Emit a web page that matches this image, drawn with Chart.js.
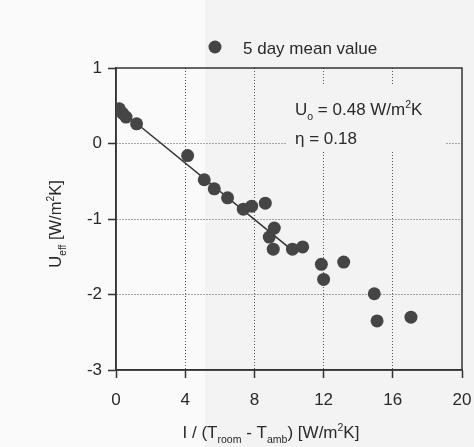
<!DOCTYPE html>
<html lang="en">
<head>
    <meta charset="UTF-8">
    <title>U_eff vs I/(T_room - T_amb)</title>
    <script src="https://cdn.jsdelivr.net/npm/chart.js"></script>
    <style>
        html, body { margin: 0; padding: 0; background: #fafafa; }
        #wrap { width: 474px; height: 447px; }
    </style>
</head>
<body>

<div id="wrap">
    <canvas id="myChart" width="474" height="447"></canvas>
</div>

<script>
    // 5 day mean values
    const xVals = [0.19, 0.38, 0.58, 1.19, 4.14, 5.10, 5.68, 6.45, 7.36, 7.84, 8.63,
                   9.15, 8.86, 9.09, 10.2, 10.79, 11.87, 12.0, 13.16, 14.93, 15.09, 17.05];
    const yVals = [0.46, 0.40, 0.35, 0.26, -0.16, -0.48, -0.60, -0.72, -0.87, -0.83, -0.79,
                   -1.12, -1.24, -1.40, -1.40, -1.37, -1.60, -1.80, -1.57, -1.99, -2.35, -2.30];

    // fitted line, ends
    const fitX = [0.1, 10.0];
    const fitY = [0.47, -1.38];

    const xTicks = [0, 4, 8, 12, 16, 20];
    const yTicks = [1, 0, -1, -2, -3];

    const FONT = '"Liberation Sans", Arial, sans-serif';
    const INK = '#2a2a2a';
    const PAPER_R = '#f3f3f3';

    // draws text made of parts, some of them sub- or superscript
    function drawParts(ctx, parts, x, y, size, align) {
        const sizeOf = p => p.sub || p.sup ? size * 0.62 : size;
        let total = 0;
        parts.forEach(p => {
            ctx.font = sizeOf(p) + 'px ' + FONT;
            total += ctx.measureText(p.t).width;
        });
        let cx = align === 'center' ? x - total / 2 : x;
        ctx.textAlign = 'left';
        ctx.textBaseline = 'alphabetic';
        parts.forEach(p => {
            ctx.font = sizeOf(p) + 'px ' + FONT;
            let dy = 0;
            if (p.sub) dy = size * 0.28;
            if (p.sup) dy = -size * 0.4;
            ctx.fillText(p.t, cx, y + dy);
            cx += ctx.measureText(p.t).width;
        });
    }

    const decorations = {
        id: 'decorations',
        beforeDraw(chart) {
            const ctx = chart.ctx;
            ctx.save();
            ctx.fillStyle = '#fafafa';
            ctx.fillRect(0, 0, chart.width, chart.height);
            ctx.fillStyle = PAPER_R;
            ctx.fillRect(205, 0, chart.width - 205, chart.height);
            ctx.restore();
        },
        beforeDatasetsDraw(chart) {
            const ctx = chart.ctx;
            const a = chart.chartArea;
            ctx.save();
            // paper behind the annotation hides the grid
            ctx.fillStyle = PAPER_R;
            ctx.fillRect(287, 86, 158, 64);
            // frame
            ctx.strokeStyle = '#333';
            ctx.lineWidth = 1.5;
            ctx.strokeRect(a.left, a.top, a.right - a.left, a.bottom - a.top);
            ctx.restore();
        },
        afterDraw(chart) {
            const ctx = chart.ctx;
            ctx.save();

            // legend
            ctx.fillStyle = '#454545';
            ctx.beginPath();
            ctx.arc(215, 47, 6.5, 0, Math.PI * 2);
            ctx.fill();
            ctx.fillStyle = INK;
            drawParts(ctx, [{t: '5 day mean value'}], 243, 54, 17, 'left');

            // annotation
            drawParts(ctx, [{t: 'U'}, {t: 'o', sub: true}, {t: ' = 0.48 W/m'}, {t: '2', sup: true}, {t: 'K'}],
                      295, 115, 17, 'left');
            drawParts(ctx, [{t: '\u03b7 = 0.18'}], 295, 144, 17, 'left');

            // x axis title
            drawParts(ctx, [{t: 'I / (T'}, {t: 'room', sub: true}, {t: ' - T'}, {t: 'amb', sub: true},
                            {t: ') [W/m'}, {t: '2', sup: true}, {t: 'K]'}],
                      271, 438, 17, 'center');

            // y axis title
            ctx.translate(61, 224);
            ctx.rotate(-Math.PI / 2);
            drawParts(ctx, [{t: 'U'}, {t: 'eff', sub: true}, {t: ' [W/m'}, {t: '2', sup: true}, {t: 'K]'}],
                      0, 0, 16.5, 'center');
            ctx.restore();
        }
    };

    const gridColor = c => (c.tick && (c.tick.value === c.scale.min || c.tick.value === c.scale.max))
        ? 'rgba(0,0,0,0)' : '#555';

    new Chart(document.getElementById('myChart').getContext('2d'), {
        type: 'scatter',
        data: {
            datasets: [{
                type: 'line',
                data: fitX.map((x, i) => ({x: x, y: fitY[i]})),
                borderColor: '#333',
                borderWidth: 1.5,
                pointRadius: 0,
                fill: false,
                order: 2
            }, {
                data: xVals.map((x, i) => ({x: x, y: yVals[i]})),
                backgroundColor: '#454545',
                borderWidth: 0,
                pointRadius: 6.5,
                order: 1
            }]
        },
        options: {
            responsive: false,
            animation: false,
            layout: { padding: { top: 68, right: 12, left: 0, bottom: 0 } },
            plugins: {
                legend: { display: false },
                tooltip: { enabled: false }
            },
            scales: {
                x: {
                    type: 'linear',
                    min: 0,
                    max: 20,
                    afterFit: s => { s.height = 77; s.paddingLeft = 0; s.paddingRight = 0; },
                    afterBuildTicks: s => { s.ticks = xTicks.map(v => ({value: v})); },
                    ticks: { font: { family: FONT, size: 17 }, color: INK, padding: 12, maxRotation: 0 },
                    grid: { color: gridColor, lineWidth: 1, tickLength: 8, tickColor: '#333', tickWidth: 1.5 },
                    border: { display: true, color: '#333', width: 1.5, dash: [1, 2] }
                },
                y: {
                    type: 'linear',
                    min: -3,
                    max: 1,
                    afterFit: s => { s.width = 116; s.paddingTop = 0; s.paddingBottom = 0; },
                    afterBuildTicks: s => { s.ticks = yTicks.map(v => ({value: v})); },
                    ticks: { font: { family: FONT, size: 17 }, color: INK, padding: 6 },
                    grid: { color: gridColor, lineWidth: 1, tickLength: 8, tickColor: '#333', tickWidth: 1.5 },
                    border: { display: true, color: '#333', width: 1.5, dash: [1, 2] }
                }
            }
        },
        plugins: [decorations]
    });
</script>

</body>
</html>
